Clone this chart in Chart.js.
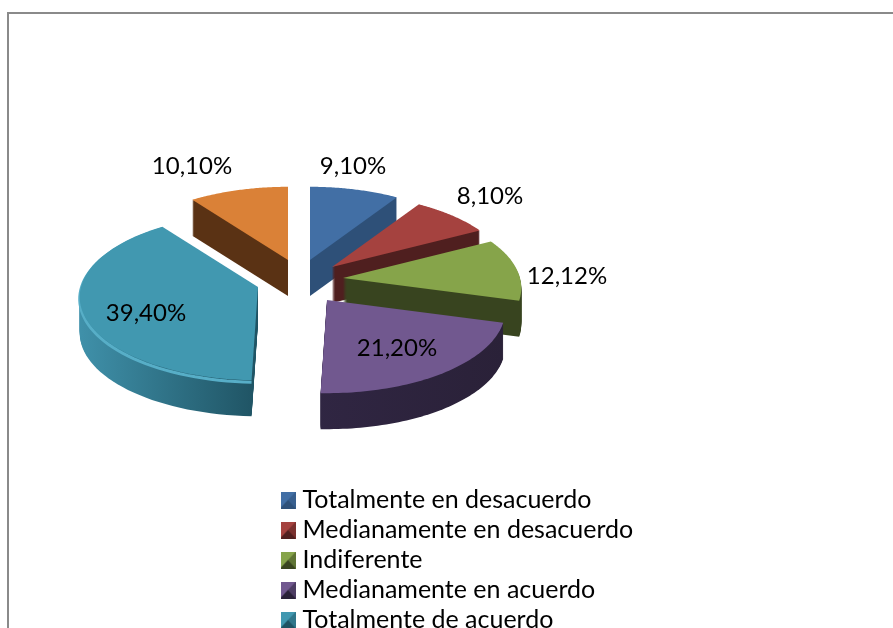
<!DOCTYPE html>
<html>
<head>
<meta charset="utf-8">
<script src="https://cdn.jsdelivr.net/npm/chart.js@4"></script>
<style>
  html, body { margin: 0; background: #fff; overflow: hidden; }
  #frame { position: absolute; left: 7px; top: 12px; width: 886px; height: 616px;
           border-left: 2px solid #8a8a8a; border-top: 2px solid #8a8a8a; }
  canvas { position: absolute; left: 0; top: 0; }
</style>
</head>
<body>
<div id="frame"></div>
<canvas id="chart" width="893" height="628"></canvas>
<script>
const categories = ['Totalmente en desacuerdo', 'Medianamente en desacuerdo', 'Indiferente',
  'Medianamente en acuerdo', 'Totalmente de acuerdo', 'Otro'];
const values = [9.10, 8.10, 12.12, 21.20, 39.40, 10.10];

const topColors = ['#426fa5', '#a5423f', '#86a44a', '#71588f', '#4198b0', '#da8137'];
const wallLeft = ['#2e5078', '#4f1f1f', '#38441f', '#352a4c', '#3f90a9', '#5a3214'];
const wallRight = ['#2e5078', '#4f1f1f', '#38441f', '#2a2138', '#1f5363', '#5a3214'];
const rimColors = [null, null, null, null, '#57aec7', null];

// explode position of each slice tip, and where its label goes
const tips = [[310, 260], [332, 267], [343, 278], [327, 300], [258, 287], [288, 260]];
const labelPos = [[353, 166], [490, 196], [567, 276], [397, 348], [146, 313], [192, 166]];
const drawOrder = [5, 0, 1, 2, 4, 3];

const depth = 36, rx = 177, ry = 82, persp = 0.12;
const fontFamily = 'Lato, "Open Sans", sans-serif';

// tilted pie: angle is clockwise from 12 o'clock
function project(tip, angle) {
  const u = Math.sin(angle), v = Math.cos(angle), d = 1 + persp * v;
  return [tip[0] + rx * u / d, tip[1] - ry * v / d];
}

function slicePath(ctx, tip, a0, a1, dy) {
  ctx.beginPath();
  ctx.moveTo(tip[0], tip[1] + dy);
  for (let i = 0; i <= 60; i++) {
    const p = project(tip, a0 + (a1 - a0) * i / 60);
    ctx.lineTo(p[0], p[1] + dy);
  }
  ctx.closePath();
}

const pie3d = {
  id: 'pie3d',
  beforeDatasetsDraw(chart) {
    const ctx = chart.ctx;
    const arcs = chart.getDatasetMeta(0).data;
    drawOrder.forEach((i) => {
      const tip = tips[i];
      const a0 = arcs[i].startAngle + Math.PI / 2;
      const a1 = arcs[i].endAngle + Math.PI / 2;
      const wall = ctx.createLinearGradient(tip[0] - rx, 0, tip[0] + rx * (i === 4 ? 0 : 1), 0);
      wall.addColorStop(0, wallLeft[i]);
      wall.addColorStop(1, wallRight[i]);
      ctx.fillStyle = wall;
      for (let d = depth; d > 0; d--) {
        slicePath(ctx, tip, a0, a1, d);
        ctx.fill();
      }
      if (rimColors[i]) {
        ctx.save();
        ctx.beginPath();
        for (let k = 0; k <= 60; k++) {
          const p = project(tip, a0 + (a1 - a0) * k / 60);
          ctx.lineTo(p[0], p[1] + 2);
        }
        ctx.strokeStyle = rimColors[i];
        ctx.lineWidth = 3;
        ctx.stroke();
        ctx.restore();
      }
      slicePath(ctx, tip, a0, a1, 0);
      ctx.fillStyle = topColors[i];
      ctx.fill();
    });
    ctx.save();
    ctx.fillStyle = '#000';
    ctx.font = '24px ' + fontFamily;
    ctx.textAlign = 'center';
    ctx.textBaseline = 'middle';
    values.forEach((v, i) => {
      ctx.fillText(v.toFixed(2).replace('.', ',') + '%', labelPos[i][0], labelPos[i][1]);
    });
    ctx.restore();
    return false;
  },
  afterLayout(chart) {
    const lg = chart.legend;
    lg.left = 281;
    lg.top = 482.5;
    lg.right = 893;
    lg.bottom = 700;
  }
};

// little bevelled square for the legend
function legendIcon(i) {
  const c = document.createElement('canvas');
  c.width = 16;
  c.height = 17;
  const g = c.getContext('2d');
  const tri = (pts, col, alpha) => {
    g.globalAlpha = alpha;
    g.fillStyle = col;
    g.beginPath();
    pts.forEach((p) => g.lineTo(p[0], p[1]));
    g.closePath();
    g.fill();
  };
  g.fillStyle = topColors[i];
  g.fillRect(0, 0, 16, 17);
  tri([[0, 17], [16, 17], [8, 8.5]], wallRight[i], 1);
  tri([[16, 0], [16, 17], [8, 8.5]], wallRight[i], 0.5);
  return c;
}

new Chart(document.getElementById('chart').getContext('2d'), {
  type: 'pie',
  plugins: [pie3d],
  data: {
    labels: categories,
    datasets: [{ data: values, backgroundColor: topColors }]
  },
  options: {
    responsive: false,
    animation: false,
    plugins: {
      tooltip: { enabled: false },
      legend: {
        position: 'left',
        align: 'start',
        labels: {
          usePointStyle: true,
          pointStyleWidth: 4,
          padding: 5,
          color: '#000',
          font: { family: fontFamily, size: 25, lineHeight: 1 },
          filter: (item) => item.index < 5,
          generateLabels: () => categories.map((name, i) => ({
            text: name,
            index: i,
            pointStyle: legendIcon(i),
            fillStyle: topColors[i],
            lineWidth: 0
          }))
        }
      }
    }
  }
});
</script>
</body>
</html>
